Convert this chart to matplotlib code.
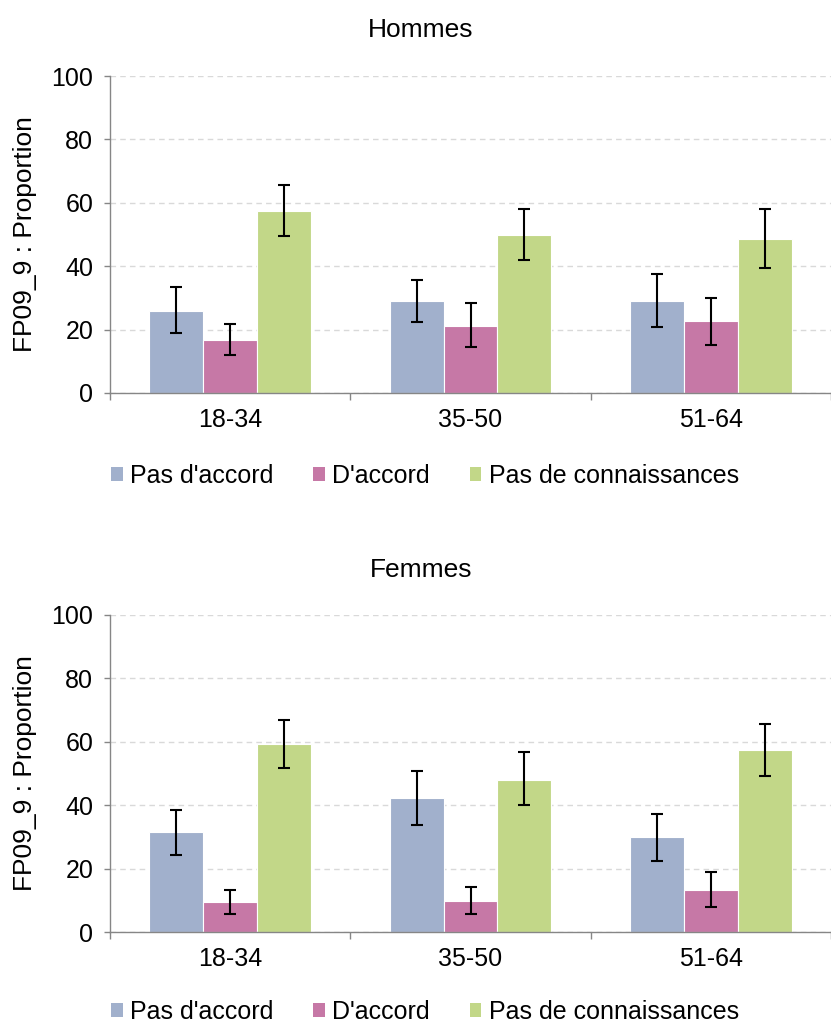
import numpy as np
import matplotlib
matplotlib.use("Agg")
import matplotlib.pyplot as plt
from matplotlib.patches import Patch

plt.rcParams['font.family'] = ['Liberation Sans', 'DejaVu Sans']

# Classes d'age et modalites de reponse
ages = ["18-34", "35-50", "51-64"]
series = ["Pas d'accord", "D'accord", "Pas de connaissances"]
colors = ["#A1B0CC", "#C678A6", "#C2D788"]

# Hommes : proportions et intervalles (bornes basse / haute)
hommes_val = [[26.0, 28.9, 28.9],
              [16.7, 21.1, 22.6],
              [57.4, 50.0, 48.5]]
hommes_lo = [[18.9, 22.4, 20.9],
             [12.1, 14.6, 15.0],
             [49.4, 42.0, 39.5]]
hommes_hi = [[33.3, 35.8, 37.6],
             [21.9, 28.3, 29.9],
             [65.6, 58.1, 58.1]]

# Femmes
femmes_val = [[31.5, 42.2, 30.0],
              [9.5, 9.9, 13.3],
              [59.4, 48.0, 57.4]]
femmes_lo = [[24.3, 33.7, 22.4],
             [5.8, 5.8, 7.8],
             [51.8, 40.0, 49.3]]
femmes_hi = [[38.6, 50.9, 37.1],
             [13.2, 14.1, 18.9],
             [66.9, 56.7, 65.6]]

FS = 18
W, H = 831, 1024
fig = plt.figure(figsize=(W / 100, H / 100), dpi=100)


def panel(rect, title, title_y, legend_y, vals, lo, hi):
    ax = fig.add_axes(rect)
    x = np.arange(len(ages))
    bw = 0.224
    for i in range(len(series)):
        v = np.array(vals[i])
        yerr = [v - np.array(lo[i]), np.array(hi[i]) - v]
        ax.bar(x + (i - 1) * bw, v, bw, color=colors[i], edgecolor="white",
               linewidth=0.8, zorder=2)
        ax.errorbar(x + (i - 1) * bw, v, yerr=yerr, fmt="none", ecolor="black",
                    elinewidth=1.5, capsize=4.5, capthick=1.5, zorder=3)

    ax.set_ylim(0, 100)
    ax.set_xlim(-0.5, (W - 110) / 242.5 - 0.5)
    ax.set_yticks([0, 20, 40, 60, 80, 100])
    ax.yaxis.grid(True, color="#D9D9D9", linestyle=(0, (4, 3)), linewidth=1.0, zorder=0)
    ax.set_axisbelow(True)

    ax.set_xticks(x)
    ax.set_xticklabels(ages)
    ax.set_xticks(np.arange(-0.5, 3.0, 1.0), minor=True)
    ax.tick_params(axis="x", which="major", length=0, pad=11, labelsize=FS)
    ax.tick_params(axis="x", which="minor", length=5, width=1.0, color="#868686",
                   direction="out")
    ax.tick_params(axis="y", length=4, width=1.0, color="#868686", pad=8,
                   labelsize=FS)

    for s in ["top", "right"]:
        ax.spines[s].set_visible(False)
    for s in ["left", "bottom"]:
        ax.spines[s].set_color("#868686")
        ax.spines[s].set_linewidth(1.0)

    ax.set_ylabel("FP09_9 : Proportion", fontsize=19, va="center")
    ax.yaxis.set_label_coords((25 - 110) / (W - 110), 0.5)

    fig.text(421 / W, title_y, title, ha="center", va="center", fontsize=19)

    handles = [Patch(facecolor=c, edgecolor="none") for c in colors]
    fig.legend(handles, series, loc="center", bbox_to_anchor=(425 / W, legend_y),
               ncol=3, frameon=False, fontsize=FS, handlelength=0.45,
               handleheight=0.45, handletextpad=0.3, columnspacing=1.6)
    return ax


panel([110 / W, 1 - 393 / H, (W - 110) / W, 317 / H], "Hommes", 1 - 30 / H,
      1 - 476 / H, hommes_val, hommes_lo, hommes_hi)
panel([110 / W, 1 - 932 / H, (W - 110) / W, 317 / H], "Femmes", 1 - 570 / H,
      1 - 1012 / H, femmes_val, femmes_lo, femmes_hi)

plt.savefig("out.png", dpi=100)
